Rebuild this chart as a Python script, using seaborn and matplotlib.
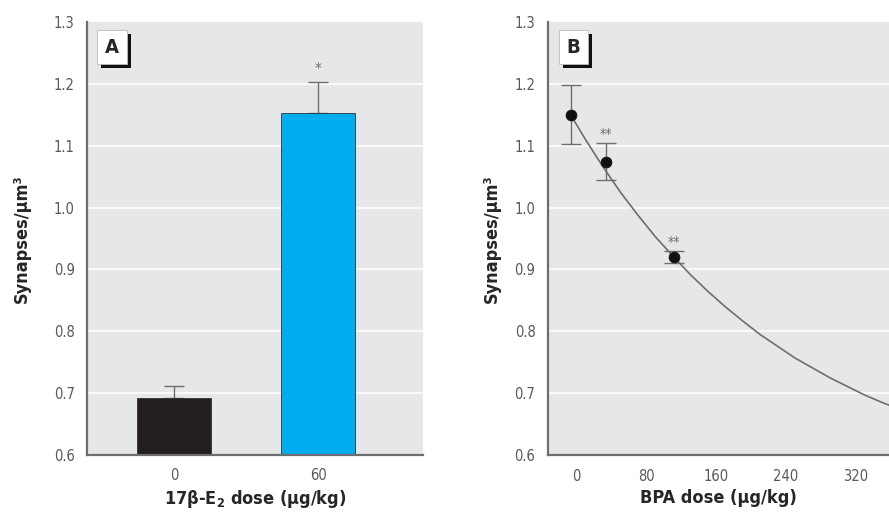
import matplotlib
matplotlib.use("Agg")
import matplotlib.pyplot as plt
import matplotlib.patheffects as pe
import seaborn as sns
import pandas as pd

sns.set_style("white")
plt.rcParams['font.family'] = ['Liberation Sans Narrow', 'DejaVu Sans']
plt.rcParams['font.stretch'] = 'condensed'

# panel A: 17b-E2 dose
e2_dose = ["0", "60"]
e2_mean = [0.692, 1.153]
e2_err = [0.020, 0.050]
e2_colors = ["#231f20", "#00aeef"]

# panel B: BPA dose (points + fitted curve)
bpa_dose = [-7, 33, 111]
bpa_mean = [1.150, 1.074, 0.920]
bpa_err = [0.048, 0.030, 0.009]
bpa_stars = ["", "**", "**"]
curve_x = [-7, 10, 30, 50, 70, 90, 110, 130, 150, 170, 190, 210, 230, 250,
           270, 290, 310, 330, 350, 370]
curve_y = [1.150, 1.110, 1.066, 1.025, 0.988, 0.953, 0.922, 0.892, 0.865, 0.840,
           0.817, 0.795, 0.776, 0.757, 0.741, 0.725, 0.711, 0.697, 0.685, 0.674]

y_ticks = [0.6, 0.7, 0.8, 0.9, 1.0, 1.1, 1.2, 1.3]
bpa_ticks = [0, 80, 160, 240, 320]

bg = "#e6e7e8"
spine_c = "#6d6e70"
tick_c = "#58595b"

fig = plt.figure(figsize=(8.89, 5.2), dpi=100)
axA = fig.add_axes([0.0979, 0.125, 0.378, 0.8327])
axB = fig.add_axes([0.6164, 0.125, 0.3836, 0.8327])


def style_axis(ax, ypad):
    ax.set_facecolor(bg)
    ax.set_ylim(0.6, 1.3)
    ax.set_yticks(y_ticks)
    ax.set_yticklabels([f"{v:.1f}" for v in y_ticks])
    for v in y_ticks[1:-1]:
        ax.axhline(v, color="white", lw=1.2, zorder=0.5)
    for s in ["top", "right"]:
        ax.spines[s].set_visible(False)
    for s in ["left", "bottom"]:
        ax.spines[s].set_color(spine_c)
        ax.spines[s].set_linewidth(1.6)
    ax.tick_params(axis="y", length=0, pad=9, labelsize=10.5, labelcolor=tick_c)
    ax.set_ylabel("Synapses/μm³", fontsize=13, fontweight="bold", labelpad=ypad)


def panel_label(ax, txt):
    t = ax.text(0.074, 0.942, txt, transform=ax.transAxes, fontsize=14.5,
                fontweight="bold", ha="center", va="center", zorder=5,
                bbox=dict(boxstyle="square,pad=0.38", fc="white", ec="#bbbbbb", lw=0.6))
    t.get_bbox_patch().set_path_effects([
        pe.SimplePatchShadow(offset=(3, -3), shadow_rgbFace="#111111", alpha=1.0),
        pe.Normal()])


# ---- A ----
dfA = pd.DataFrame({"dose": e2_dose, "mean": e2_mean})
sns.barplot(data=dfA, x="dose", y="mean", hue="dose", palette=e2_colors, saturation=1,
            width=0.51, legend=False, ax=axA, zorder=2, edgecolor="#333333", linewidth=0.6)
axA.errorbar(range(len(e2_dose)), e2_mean, yerr=[[0] * len(e2_err), e2_err],
             fmt="none", ecolor="#6d6e70", elinewidth=1.0, capsize=7, zorder=1)
axA.text(1, e2_mean[1] + e2_err[1] + 0.02, "*", ha="center", va="center",
         fontsize=11, color="#6d6e70")
style_axis(axA, 16)
axA.set_xlim(-0.604, 1.729)
axA.tick_params(axis="x", length=0, pad=9, labelsize=10.5, labelcolor=tick_c)
axA.set_xlabel("17β-E$_\\mathbf{2}$ dose (μg/kg)", fontsize=13, fontweight="bold", labelpad=4)
panel_label(axA, "A")

# ---- B ----
sns.lineplot(x=curve_x, y=curve_y, ax=axB, color="#6d6e70", lw=1.2, zorder=2)
axB.errorbar(bpa_dose, bpa_mean, yerr=bpa_err, fmt="none", ecolor="#6d6e70",
             elinewidth=1.0, capsize=7, zorder=3)
sns.scatterplot(x=bpa_dose, y=bpa_mean, ax=axB, color="#111111", s=60,
                edgecolor="#111111", zorder=4)
for x, m, e, st in zip(bpa_dose, bpa_mean, bpa_err, bpa_stars):
    if st:
        axB.text(x, m + e + 0.015, st, ha="center", va="center", fontsize=10,
                 color="#6d6e70")
style_axis(axB, 10)
axB.set_xlim(-33, 358)
axB.set_xticks(bpa_ticks)
axB.tick_params(axis="x", length=5, width=1.0, color=spine_c, pad=5,
                labelsize=10.5, labelcolor=tick_c)
axB.set_xlabel("BPA dose (μg/kg)", fontsize=13, fontweight="bold", labelpad=4)
panel_label(axB, "B")

fig.savefig("out.png", dpi=100)
